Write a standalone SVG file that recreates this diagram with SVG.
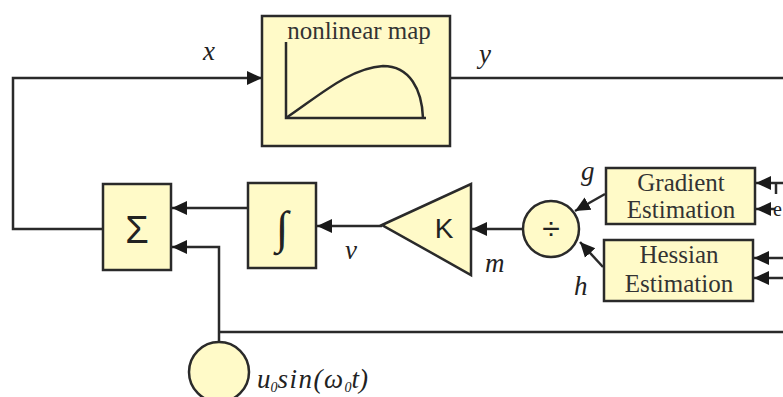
<svg xmlns="http://www.w3.org/2000/svg" width="783" height="397" viewBox="0 0 783 397">
<defs>
<style>
.box{fill:#fffac8;stroke:#2a2a2a;stroke-width:2.5}
.ln{fill:none;stroke:#2a2a2a;stroke-width:2.5}
.lbl{font-family:"Liberation Serif",serif;font-style:italic;font-size:27px;fill:#222}
.bt{font-family:"Liberation Serif",serif;font-size:25px;fill:#333;text-anchor:middle}
.sym{font-family:"Liberation Sans",sans-serif;fill:#222;text-anchor:middle}
</style>
<marker id="ah" markerUnits="userSpaceOnUse" markerWidth="16" markerHeight="16" refX="15" refY="8" orient="auto">
<path d="M0,1 L15,8 L0,15 Z" fill="#1a1a1a"/>
</marker>
</defs>
<rect width="783" height="397" fill="#ffffff"/>
<g id="connectors">
<polyline class="ln" points="103,229 13,229 13,78 262,78" marker-end="url(#ah)"/>
<line class="ln" x1="450" y1="78" x2="783" y2="78"/>
<line class="ln" x1="248" y1="208" x2="172" y2="208" marker-end="url(#ah)"/>
<polyline class="ln" points="219,342 219,247 172,247" marker-end="url(#ah)"/>
<line class="ln" x1="219" y1="332" x2="783" y2="332"/>
<line class="ln" x1="382" y1="226" x2="317" y2="226" marker-end="url(#ah)"/>
<line class="ln" x1="523" y1="229" x2="472" y2="229" marker-end="url(#ah)"/>
<line class="ln" x1="605" y1="194" x2="575" y2="211" marker-end="url(#ah)"/>
<line class="ln" x1="603" y1="267" x2="580" y2="242" marker-end="url(#ah)"/>
<line class="ln" x1="783" y1="183" x2="756" y2="183" marker-end="url(#ah)"/>
<line class="ln" x1="776" y1="183" x2="776" y2="194"/>
<line class="ln" x1="775" y1="209" x2="756" y2="209" marker-end="url(#ah)"/>
<line class="ln" x1="783" y1="258" x2="754" y2="258" marker-end="url(#ah)"/>
<line class="ln" x1="783" y1="278" x2="754" y2="278" marker-end="url(#ah)"/>
</g>
<g id="nonlinear-map">
<rect class="box" x="262" y="16" width="188" height="130"/>
<text class="bt" x="359" y="39">nonlinear map</text>
<polyline class="ln" points="286,42 286,118 426,118"/>
<path class="ln" d="M286,118 C320,95 350,68 383,66 C410,66 422,90 423,118"/>
</g>
<g id="sum">
<rect class="box" x="103" y="184" width="68" height="86"/>
<text class="sym" x="137" y="243" font-size="38">Σ</text>
</g>
<g id="integrator">
<rect class="box" x="248" y="183" width="68" height="85"/>
<text x="282" y="243" font-family="Liberation Serif,serif" font-style="italic" font-size="46" text-anchor="middle" fill="#222">∫</text>
</g>
<g id="gain">
<polygon class="box" points="382,225 471,184 471,275"/>
<text class="sym" x="444" y="238" font-size="28">K</text>
</g>
<g id="divide">
<circle class="box" cx="551" cy="229" r="28"/>
<text class="sym" x="551" y="239" font-size="32">÷</text>
</g>
<g id="gradient">
<rect class="box" x="606" y="168" width="149" height="56"/>
<text class="bt" x="681" y="191">Gradient</text>
<text class="bt" x="681" y="218">Estimation</text>
</g>
<g id="hessian">
<rect class="box" x="604" y="240" width="149" height="61"/>
<text class="bt" x="679" y="263">Hessian</text>
<text class="bt" x="679" y="292">Estimation</text>
</g>
<g id="sinusoid">
<circle class="box" cx="219" cy="372" r="30"/>
<text class="lbl" x="257" y="388" font-size="28">u<tspan font-size="14" dy="4">0</tspan><tspan dy="-4" letter-spacing="1.5">sin(ω</tspan><tspan font-size="14" dy="4">0</tspan><tspan dy="-4">t)</tspan></text>
</g>
<g id="labels">
<text class="lbl" x="203" y="60">x</text>
<text class="lbl" x="479" y="63">y</text>
<text class="lbl" x="345" y="259">v</text>
<text class="lbl" x="485" y="272">m</text>
<text class="lbl" x="581" y="180">g</text>
<text class="lbl" x="574" y="295">h</text>
<text x="773" y="216" font-family="Liberation Serif,serif" font-size="20" fill="#222">e</text>
</g>
</svg>
